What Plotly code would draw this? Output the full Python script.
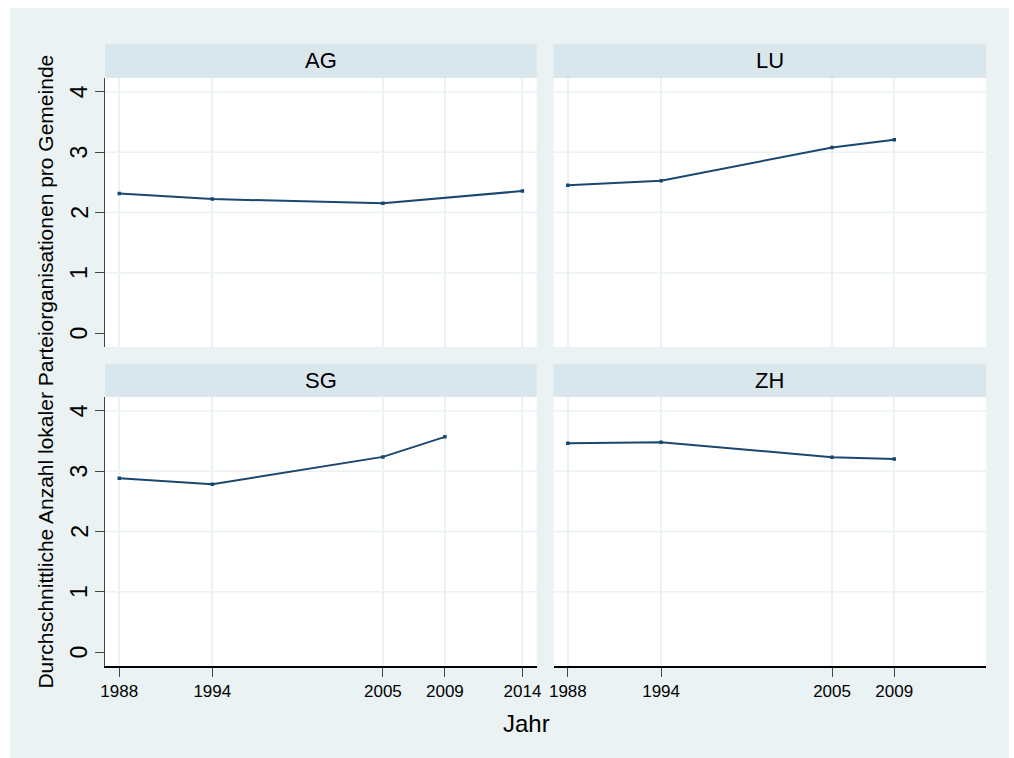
import plotly.graph_objects as go

W, H = 1014, 758

panels = ["AG", "LU", "SG", "ZH"]
years_AG = [1988, 1994, 2005, 2014]
vals_AG = [2.317, 2.223, 2.152, 2.356]
years_LU = [1988, 1994, 2005, 2009]
vals_LU = [2.45, 2.527, 3.078, 3.205]
years_SG = [1988, 1994, 2005, 2009]
vals_SG = [2.884, 2.785, 3.237, 3.569]
years_ZH = [1988, 1994, 2005, 2009]
vals_ZH = [3.464, 3.481, 3.232, 3.204]

xticks_left = [1988, 1994, 2005, 2009, 2014]
xticks_right = [1988, 1994, 2005, 2009]
yticks = [0, 1, 2, 3, 4]
ygrid = [1, 2, 3, 4]

y_title = "Durchschnittliche Anzahl lokaler Parteiorganisationen pro Gemeinde"
x_title = "Jahr"

BG = "#eaf2f3"
HDR = "#d9e6eb"
LINE = "#1a476f"
GRID = "#eaf2f3"
FONT = "Liberation Sans, Arial, sans-serif"

def px(x):
    return x / W

def py(y):
    return 1 - y / H

# pixel layout
colx = [(101, 537), (554, 991)]
rowy = [(78, 347), (397, 666)]
hdry = [(44, 78), (364, 397)]

data = {
    "AG": (years_AG, vals_AG),
    "LU": (years_LU, vals_LU),
    "SG": (years_SG, vals_SG),
    "ZH": (years_ZH, vals_ZH),
}

fig = go.Figure()
shapes = []
annotations = []

# outer background
shapes.append(dict(type="rect", xref="paper", yref="paper", layer="below",
                   x0=px(5), x1=px(1014), y0=py(758), y1=py(8),
                   fillcolor=BG, line=dict(width=0)))

layout_axes = {}
for i, name in enumerate(panels):
    r, c = divmod(i, 2)
    n = i + 1
    xa = "x" if n == 1 else f"x{n}"
    ya = "y" if n == 1 else f"y{n}"
    xs, ys = data[name]
    fig.add_trace(go.Scatter(x=xs, y=ys, mode="lines+markers", xaxis=xa, yaxis=ya,
                             line=dict(color=LINE, width=2),
                             marker=dict(color=LINE, size=3.5, symbol="square"),
                             showlegend=False, hoverinfo="x+y"))
    x0, x1 = colx[c]
    y0, y1 = rowy[r]
    # white plot area
    shapes.append(dict(type="rect", xref="paper", yref="paper", layer="below",
                       x0=px(x0), x1=px(x1), y0=py(y1), y1=py(y0),
                       fillcolor="white", line=dict(width=0)))
    # header
    hy0, hy1 = hdry[r]
    shapes.append(dict(type="rect", xref="paper", yref="paper", layer="below",
                       x0=px(x0), x1=px(x1), y0=py(hy1), y1=py(hy0),
                       fillcolor=HDR, line=dict(width=0)))
    annotations.append(dict(text=name, xref="paper", yref="paper",
                            x=px((x0 + x1) / 2), y=py((hy0 + hy1) / 2),
                            xanchor="center", yanchor="middle", showarrow=False,
                            font=dict(size=22, color="black", family=FONT)))
    # horizontal gridlines (Stata omits the one at the axis minimum)
    for g in ygrid:
        shapes.append(dict(type="line", xref=f"{xa} domain", yref=ya, layer="below",
                           x0=0, x1=1, y0=g, y1=g,
                           line=dict(color=GRID, width=1.5)))
    bottom = r == 1
    left = c == 0
    # rotated y tick labels (Stata style), placed on the axis scale
    if left:
        for v in yticks:
            annotations.append(dict(text=str(v), xref="paper", yref=ya,
                                    x=px(75), y=v, textangle=-90,
                                    xanchor="center", yanchor="middle", showarrow=False,
                                    font=dict(size=23, color="black", family=FONT)))
    layout_axes["xaxis" if n == 1 else f"xaxis{n}"] = dict(
        domain=[px(x0), px(x1)], anchor=ya, range=[1987.08, 2014.92],
        tickvals=xticks_left if left else xticks_right,
        showgrid=True, gridcolor=GRID, gridwidth=1.5, zeroline=False,
        showticklabels=bottom, ticks="outside" if bottom else "",
        ticklen=9, tickwidth=1.2, tickcolor="#444444",
        showline=bottom, linecolor="black", linewidth=1.5,
        tickfont=dict(size=17, color="black", family=FONT),
        fixedrange=True,
    )
    layout_axes["yaxis" if n == 1 else f"yaxis{n}"] = dict(
        domain=[py(y1), py(y0)], anchor=xa, range=[-0.23, 4.23],
        tickvals=yticks, showgrid=False, zeroline=False,
        showticklabels=False, ticks="outside" if left else "",
        ticklen=9, tickwidth=1.2, tickcolor="#444444",
        showline=left, linecolor="#444444", linewidth=1.3,
        fixedrange=True,
    )

annotations.append(dict(text=y_title, xref="paper", yref="paper",
                        x=px(40), y=py(372), textangle=-90,
                        xanchor="center", yanchor="middle", showarrow=False,
                        font=dict(size=21, color="black", family=FONT)))
annotations.append(dict(text=x_title, xref="paper", yref="paper",
                        x=px(527), y=py(723),
                        xanchor="center", yanchor="middle", showarrow=False,
                        font=dict(size=24, color="black", family=FONT)))

fig.update_layout(
    width=W, height=H,
    margin=dict(l=0, r=0, t=0, b=0),
    paper_bgcolor="white", plot_bgcolor="rgba(0,0,0,0)",
    shapes=shapes, annotations=annotations,
    font=dict(family=FONT, color="black"),
    showlegend=False,
    **layout_axes,
)

fig.write_html("out.html", config={"displayModeBar": False},
               post_script="document.body.style.margin='0px';")
